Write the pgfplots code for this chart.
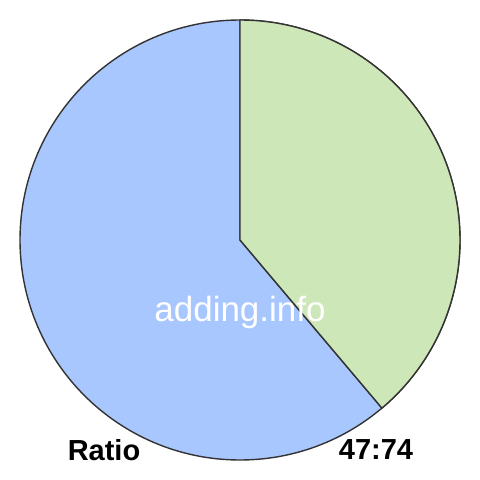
\documentclass[border=0pt]{standalone}
\usepackage{pgfplots}
\pgfplotsset{compat=1.18}
\usepackage{fontspec}
\setmainfont{Liberation Sans}
\definecolor{pieblue}{HTML}{A9C7FF}
\definecolor{piegreen}{HTML}{CDE7B8}
\definecolor{edge}{HTML}{333333}
\begin{document}
\begin{tikzpicture}
\def\va{47}
\def\vb{74}
\pgfmathsetmacro{\split}{90-\va/(\va+\vb)*360}
\begin{axis}[
  width=480pt, height=480pt, scale only axis,
  xmin=0, xmax=480, ymin=0, ymax=480,
  hide axis, clip=false,
]
\path (axis cs:0,0) rectangle (axis cs:480,480);
\filldraw[fill=pieblue, draw=edge, line width=1.4pt, line join=round]
  (axis cs:240,240) -- (axis cs:240,460) arc[start angle=90, end angle=\split-360, radius=220pt] -- cycle;
\filldraw[fill=piegreen, draw=edge, line width=1.4pt, line join=round]
  (axis cs:240,240) -- (axis cs:240,460) arc[start angle=90, end angle=\split, radius=220pt] -- cycle;
\node[text=white, font=\fontsize{35}{40}\selectfont] at (axis cs:240,168) {adding.info};
\node[font=\fontsize{29}{34}\selectfont\bfseries] at (axis cs:104,30) {Ratio};
\node[font=\fontsize{29}{34}\selectfont\bfseries] at (axis cs:376,30) {\va:\vb};
\end{axis}
\end{tikzpicture}
\end{document}
